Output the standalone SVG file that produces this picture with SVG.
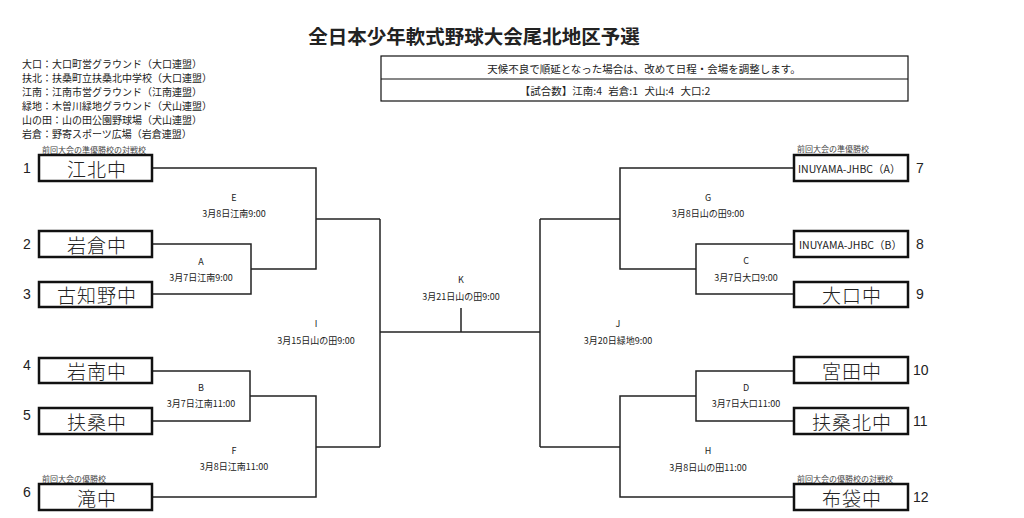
<svg xmlns="http://www.w3.org/2000/svg" width="1024" height="518" viewBox="0 0 1024 518">
<style>
text{font-family:"Noto Sans CJK JP","Liberation Sans",sans-serif;fill:#222}
.box{fill:#fff;stroke:#111;stroke-width:2.5}
.bl{font-size:19px;font-weight:300;letter-spacing:1px;text-anchor:middle;dominant-baseline:central}
.bs{font-size:10.5px;dominant-baseline:central}
.num{font-size:14px;font-family:"Liberation Sans","Noto Sans CJK JP",sans-serif;dominant-baseline:central}
.ml{font-size:9px;text-anchor:middle;dominant-baseline:central}
.cap{font-size:8px;fill:#444;dominant-baseline:central}
.leg{font-size:10px;dominant-baseline:central}
.conn{fill:none;stroke:#222;stroke-width:1.5}
</style>
<rect width="1024" height="518" fill="#fff"/>
<text x="474" y="35" font-size="19.5" font-weight="bold" text-anchor="middle" dominant-baseline="central">全日本少年軟式野球大会尾北地区予選</text>
<g id="legend">
<text class="leg" x="22" y="63">大口：大口町営グラウンド（大口連盟）</text>
<text class="leg" x="22" y="77">扶北：扶桑町立扶桑北中学校（大口連盟）</text>
<text class="leg" x="22" y="91">江南：江南市営グラウンド（江南連盟）</text>
<text class="leg" x="22" y="105">緑地：木曽川緑地グラウンド（犬山連盟）</text>
<text class="leg" x="22" y="119">山の田：山の田公園野球場（犬山連盟）</text>
<text class="leg" x="22" y="133">岩倉：野寄スポーツ広場（岩倉連盟）</text>
</g>
<g id="notice">
<rect x="381" y="56" width="527" height="45" fill="#fff" stroke="#111" stroke-width="1.2"/>
<line x1="381" y1="79" x2="908" y2="79" stroke="#111" stroke-width="1.2"/>
<text x="644" y="68" font-size="10.5" text-anchor="middle" dominant-baseline="central">天候不良で順延となった場合は、改めて日程・会場を調整します。</text>
<text x="615" y="90" font-size="10.5" text-anchor="middle" dominant-baseline="central" word-spacing="4">【試合数】江南:4 岩倉:1 犬山:4 大口:2</text>
</g>
<g id="connectors">
<polyline class="conn" points="152,168 316,168 316,269 251,269"/>
<polyline class="conn" points="152,244 251,244 251,294 152,294"/>
<polyline class="conn" points="316,219 380,219"/>
<polyline class="conn" points="152,371 250,371 250,421 152,421"/>
<polyline class="conn" points="250,396 316,396 316,497 152,497"/>
<polyline class="conn" points="316,447 380,447"/>
<polyline class="conn" points="380,219 380,447"/>
<polyline class="conn" points="380,332 540,332"/>
<polyline class="conn" points="461,308 461,332"/>
<polyline class="conn" points="540,219 540,447"/>
<polyline class="conn" points="540,219 620,219"/>
<polyline class="conn" points="794,168 620,168 620,269 696,269"/>
<polyline class="conn" points="794,244 696,244 696,294 794,294"/>
<polyline class="conn" points="540,447 620,447"/>
<polyline class="conn" points="794,371 696,371 696,421 794,421"/>
<polyline class="conn" points="696,396 620,396 620,497 794,497"/>
</g>
<g id="labels">
<text class="ml" x="234" y="197">E</text><text class="ml" x="234" y="213">3月8日江南9:00</text>
<text class="ml" x="201" y="261">A</text><text class="ml" x="201" y="277">3月7日江南9:00</text>
<text class="ml" x="201" y="387">B</text><text class="ml" x="201" y="403">3月7日江南11:00</text>
<text class="ml" x="234" y="450">F</text><text class="ml" x="234" y="466">3月8日江南11:00</text>
<text class="ml" x="316" y="323">I</text><text class="ml" x="316" y="340">3月15日山の田9:00</text>
<text class="ml" x="461" y="279">K</text><text class="ml" x="461" y="296">3月21日山の田9:00</text>
<text class="ml" x="618" y="323">J</text><text class="ml" x="618" y="340">3月20日緑地9:00</text>
<text class="ml" x="708" y="197">G</text><text class="ml" x="708" y="213">3月8日山の田9:00</text>
<text class="ml" x="746" y="260">C</text><text class="ml" x="746" y="277">3月7日大口9:00</text>
<text class="ml" x="746" y="387">D</text><text class="ml" x="746" y="403">3月7日大口11:00</text>
<text class="ml" x="708" y="450">H</text><text class="ml" x="708" y="467">3月8日山の田11:00</text>
</g>
<g id="team1"><rect class="box" x="39" y="155" width="113" height="26"/><text class="bl" x="97" y="168">江北中</text><text class="num" x="23" y="168">1</text><text class="cap" x="42" y="149">前回大会の準優勝校の対戦校</text></g>
<g id="team2"><rect class="box" x="39" y="231" width="113" height="26"/><text class="bl" x="97" y="244">岩倉中</text><text class="num" x="23" y="244">2</text></g>
<g id="team3"><rect class="box" x="39" y="282" width="113" height="25"/><text class="bl" x="97" y="294">古知野中</text><text class="num" x="23" y="294">3</text></g>
<g id="team4"><rect class="box" x="39" y="358" width="113" height="25"/><text class="bl" x="97" y="370">岩南中</text><text class="num" x="23" y="365">4</text></g>
<g id="team5"><rect class="box" x="39" y="408" width="113" height="26"/><text class="bl" x="97" y="421">扶桑中</text><text class="num" x="23" y="415">5</text></g>
<g id="team6"><rect class="box" x="39" y="484" width="113" height="26"/><text class="bl" x="97" y="497">滝中</text><text class="num" x="23" y="492">6</text><text class="cap" x="42" y="478">前回大会の優勝校</text></g>
<g id="team7"><rect class="box" x="794" y="155" width="114" height="26"/><text class="bs" x="798" y="168">INUYAMA-JHBC（A）</text><text class="num" x="916" y="168">7</text><text class="cap" x="797" y="148">前回大会の準優勝校</text></g>
<g id="team8"><rect class="box" x="794" y="231" width="114" height="26"/><text class="bs" x="799" y="244">INUYAMA-JHBC（B）</text><text class="num" x="916" y="244">8</text></g>
<g id="team9"><rect class="box" x="794" y="282" width="114" height="25"/><text class="bl" x="852" y="294">大口中</text><text class="num" x="916" y="294">9</text></g>
<g id="team10"><rect class="box" x="794" y="357" width="114" height="26"/><text class="bl" x="852" y="370">宮田中</text><text class="num" x="913" y="370">10</text></g>
<g id="team11"><rect class="box" x="794" y="408" width="114" height="26"/><text class="bl" x="852" y="421">扶桑北中</text><text class="num" x="913" y="421">11</text></g>
<g id="team12"><rect class="box" x="794" y="484" width="114" height="26"/><text class="bl" x="852" y="497">布袋中</text><text class="num" x="913" y="497">12</text><text class="cap" x="797" y="478">前回大会の優勝校の対戦校</text></g>
</svg>
